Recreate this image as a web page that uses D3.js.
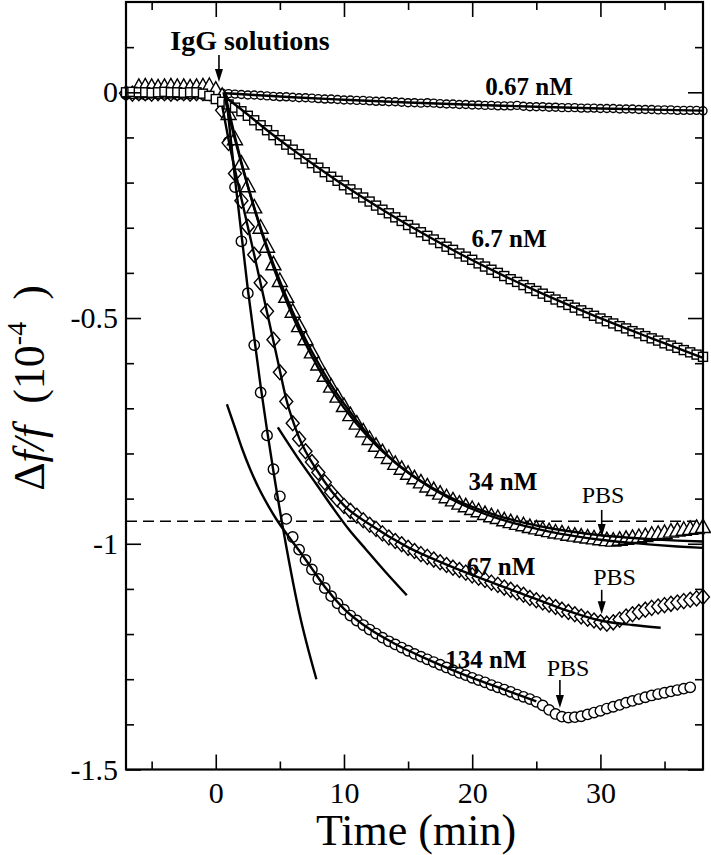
<!DOCTYPE html>
<html><head><meta charset="utf-8">
<script src="https://cdn.jsdelivr.net/npm/d3@7"></script>
<style>body{margin:0;background:#fff}svg{display:block}</style>
</head><body><svg id="chart" width="711" height="855"></svg>
<script>
// ---------------- DATA ----------------
const timeMin = [
 -7,-6.5,-6,-5.5,-5,-4.5,-4,-3.5,-3,-2.5,
 -2,-1.5,-1,-0.5,0,0.5,1,1.5,2,2.5,
 3,3.5,4,4.5,5,5.5,6,6.5,7,7.5,
 8,8.5,9,9.5,10,10.5,11,11.5,12,12.5,
 13,13.5,14,14.5,15,15.5,16,16.5,17,17.5,
 18,18.5,19,19.5,20,20.5,21,21.5,22,22.5,
 23,23.5,24,24.5,25,25.5,26,26.5,27,27.5,
 28,28.5,29,29.5,30,30.5,31,31.5,32,32.5,
 33,33.5,34,34.5,35,35.5,36,36.5,37,37.5,
 38];

const s067 = [
 -0.004,-0.005,-0.004,-0.003,-0.004,-0.005,-0.004,-0.004,-0.003,-0.004,
 -0.005,-0.004,-0.003,-0.003,-0.002,-0.002,-0.003,-0.004,-0.005,-0.006,
 -0.006,-0.007,-0.008,-0.009,-0.010,-0.010,-0.011,-0.012,-0.012,-0.013,
 -0.014,-0.015,-0.015,-0.016,-0.017,-0.017,-0.018,-0.018,-0.019,-0.020,
 -0.020,-0.021,-0.021,-0.022,-0.023,-0.023,-0.024,-0.023,-0.024,-0.025,
 -0.026,-0.026,-0.027,-0.027,-0.028,-0.028,-0.029,-0.029,-0.030,-0.030,
 -0.030,-0.029,-0.031,-0.032,-0.032,-0.032,-0.033,-0.033,-0.034,-0.034,
 -0.034,-0.035,-0.035,-0.035,-0.036,-0.036,-0.036,-0.037,-0.037,-0.037,
 -0.038,-0.038,-0.038,-0.039,-0.039,-0.039,-0.040,-0.040,-0.040,-0.040,
 -0.041];

const s6_7 = [
 0.000,0.001,0.000,0.000,-0.001,0.000,0.001,0.000,0.000,-0.001,
 0.000,0.000,-0.003,-0.008,-0.015,-0.021,-0.027,-0.034,-0.042,-0.052,
 -0.062,-0.073,-0.084,-0.095,-0.106,-0.116,-0.127,-0.137,-0.147,-0.157,
 -0.167,-0.177,-0.187,-0.196,-0.206,-0.215,-0.224,-0.233,-0.242,-0.251,
 -0.260,-0.268,-0.277,-0.285,-0.294,-0.302,-0.310,-0.318,-0.326,-0.334,
 -0.342,-0.349,-0.357,-0.364,-0.371,-0.379,-0.386,-0.393,-0.400,-0.407,
 -0.414,-0.420,-0.427,-0.434,-0.440,-0.446,-0.453,-0.459,-0.465,-0.471,
 -0.477,-0.483,-0.489,-0.495,-0.501,-0.507,-0.512,-0.518,-0.523,-0.529,
 -0.534,-0.540,-0.545,-0.550,-0.556,-0.561,-0.566,-0.571,-0.576,-0.581,
 -0.586];

const s34 = [
 null,null,0.012,0.013,0.012,0.011,0.012,0.013,0.012,0.012,
 0.011,0.012,0.013,0.014,0.006,-0.008,-0.048,-0.104,-0.158,-0.208,
 -0.255,-0.300,-0.342,-0.381,-0.418,-0.453,-0.486,-0.518,-0.547,-0.576,
 -0.603,-0.628,-0.652,-0.674,-0.695,-0.715,-0.734,-0.751,-0.768,-0.783,
 -0.797,-0.810,-0.823,-0.834,-0.845,-0.855,-0.864,-0.873,-0.881,-0.889,
 -0.897,-0.904,-0.911,-0.917,-0.923,-0.928,-0.934,-0.939,-0.943,-0.948,
 -0.952,-0.956,-0.959,-0.963,-0.966,-0.969,-0.972,-0.975,-0.977,-0.980,
 -0.982,-0.984,-0.986,-0.988,-0.990,-0.992,-0.993,-0.991,-0.989,-0.987,
 -0.985,-0.983,-0.980,-0.978,-0.976,-0.973,-0.971,-0.969,-0.967,-0.965,
 -0.963];

const s67 = [
 -0.002,-0.003,-0.002,-0.002,-0.003,-0.002,-0.002,-0.003,-0.002,-0.002,
 -0.003,-0.002,-0.002,-0.002,-0.003,-0.040,-0.112,-0.180,-0.240,-0.298,
 -0.360,-0.422,-0.485,-0.548,-0.620,-0.685,-0.733,-0.768,-0.795,-0.819,
 -0.842,-0.864,-0.886,-0.902,-0.916,-0.927,-0.938,-0.948,-0.958,-0.967,
 -0.977,-0.986,-0.994,-1.001,-1.009,-1.016,-1.023,-1.029,-1.035,-1.041,
 -1.047,-1.053,-1.058,-1.064,-1.070,-1.075,-1.080,-1.086,-1.091,-1.097,
 -1.102,-1.108,-1.113,-1.120,-1.125,-1.130,-1.135,-1.140,-1.146,-1.151,
 -1.156,-1.161,-1.166,-1.170,-1.174,-1.177,-1.174,-1.168,-1.161,-1.156,
 -1.151,-1.146,-1.142,-1.139,-1.136,-1.133,-1.130,-1.127,-1.124,-1.121,
 -1.118];

const s134 = [
 -0.004,-0.003,-0.004,-0.005,-0.004,-0.003,-0.004,-0.004,-0.005,-0.004,
 -0.004,-0.003,-0.004,-0.004,-0.003,-0.020,-0.110,-0.210,-0.330,-0.445,
 -0.560,-0.665,-0.760,-0.835,-0.895,-0.945,-0.985,-1.013,-1.036,-1.057,
 -1.078,-1.098,-1.116,-1.132,-1.146,-1.159,-1.170,-1.180,-1.190,-1.199,
 -1.208,-1.216,-1.223,-1.230,-1.237,-1.244,-1.250,-1.256,-1.262,-1.268,
 -1.274,-1.280,-1.286,-1.291,-1.297,-1.302,-1.307,-1.313,-1.318,-1.323,
 -1.328,-1.334,-1.339,-1.344,-1.350,-1.358,-1.368,-1.377,-1.383,-1.385,
 -1.384,-1.382,-1.378,-1.374,-1.370,-1.365,-1.361,-1.357,-1.352,-1.348,
 -1.344,-1.340,-1.336,-1.333,-1.330,-1.327,-1.324,-1.321,-1.318,null,
 null];

// fitted curves [time, value]
const fit067 = [[0.7,-0.002],[3,-0.006],[6,-0.011],[10,-0.0165],[15,-0.0225],[20,-0.0276],[25,-0.032],[30,-0.0358],[35,-0.039],[38,-0.0407]];
const fit6_7 = [[0.8,-0.012],[2,-0.038],[4,-0.084],[6,-0.127],[8,-0.167],[10,-0.206],[13,-0.26],[16,-0.31],[19,-0.357],[22,-0.40],[25,-0.44],[28,-0.477],[31,-0.512],[34,-0.545],[38,-0.588]];
const fit34a = [[0.6,0],[1,-0.048],[2,-0.158],[3,-0.255],[4,-0.342],[5,-0.418],[6,-0.486],[7,-0.547],[8,-0.600],[9,-0.648],[10,-0.690],[12,-0.762],[14,-0.820],[16,-0.862],[18,-0.896],[20,-0.923],[22,-0.944],[24,-0.960],[26,-0.973],[28,-0.983],[30,-0.991],[32,-0.997],[34,-1.002],[36,-1.006],[38,-1.009]];
const fit34b = [[0.7,0],[1,-0.038],[2,-0.155],[3,-0.257],[4,-0.347],[5,-0.426],[6,-0.496],[7,-0.557],[8,-0.611],[9,-0.658],[10,-0.699],[12,-0.767],[14,-0.820],[16,-0.861],[18,-0.893],[20,-0.918],[22,-0.938],[24,-0.953],[26,-0.965],[28,-0.974],[30,-0.981],[32,-0.986],[34,-0.990],[36,-0.993],[38,-0.995]];
const fit67 = [[0.5,-0.03],[1,-0.105],[2,-0.235],[3,-0.36],[4,-0.487],[4.8,-0.59],[5.5,-0.68],[6.5,-0.765],[8,-0.842],[10,-0.915],[12,-0.957],[15,-1.008],[18,-1.046],[21,-1.08],[24,-1.112],[27,-1.144],[30,-1.170],[32.5,-1.180],[34.7,-1.186]];
const fit67b = [[4.84,-0.742],[6.48,-0.813],[7.8,-0.866],[9.05,-0.917],[10.37,-0.968],[11.7,-1.012],[13.26,-1.063],[14.9,-1.114]];
const fit134fast = [[0.8,-0.005],[1.5,-0.191],[2.5,-0.436],[3.5,-0.651],[4.5,-0.84],[5.5,-1.006],[6.5,-1.151],[7.85,-1.30]];
const fit134slow = [[0.87,-0.691],[1.5,-0.743],[2.05,-0.789],[2.7,-0.836],[3.36,-0.877],[4.0,-0.911],[4.69,-0.944],[5.55,-0.979],[6.5,-1.015],[7.5,-1.055],[8.5,-1.095],[10,-1.144],[12,-1.189],[14,-1.222],[17,-1.262],[20,-1.297],[22.5,-1.323],[25,-1.349]];

// axis ticks
const xMajor = [0,10,20,30];
const xMinor = [-5,5,15,25,35];
const yMajor = [0,-0.5,-1,-1.5];
const yMinor = [0.1,-0.1,-0.2,-0.3,-0.4,-0.6,-0.7,-0.8,-0.9,-1.1,-1.2,-1.3,-1.4];
const refLevel = -0.95;

// annotations (data coordinates)
const concLabels = [
 {text:"0.67 nM", t:24.43, v:-0.006},
 {text:"6.7 nM",  t:22.87, v:-0.343},
 {text:"34 nM",   t:22.4,  v:-0.881},
 {text:"67 nM",   t:22.24, v:-1.069},
 {text:"134 nM",  t:21.07, v:-1.275}];
const pbsMarks = [
 {t:30.1, v0:-0.925, v1:-0.985, lt:30.2, lv:-0.909},
 {t:30.1, v0:-1.102, v1:-1.156, lt:31.1, lv:-1.091},
 {t:26.84,v0:-1.302, v1:-1.364, lt:27.47,lv:-1.293}];
const igg = {text:"IgG solutions", t:0.25, v0:0.0825, v1:0.0228, lt:2.67, lv:0.0937};

// ---------------- DRAW ----------------
const svg = d3.select("#chart");
const P = {left:126, right:703, top:2, bottom:769.5};
const x = d3.scaleLinear().domain([-7,38]).range([P.left, P.right]);
const y = d3.scaleLinear().domain([-1.5,0.2]).range([P.bottom, P.top]);
const serif = "'Liberation Serif','Times New Roman',Times,serif";

svg.append("rect").attr("width",711).attr("height",855).attr("fill","#fff");

// dashed reference line
svg.append("line").attr("x1",x(-7)).attr("x2",x(38))
  .attr("y1",y(refLevel)).attr("y2",y(refLevel))
  .attr("stroke","#000").attr("stroke-width",1.6).attr("stroke-dasharray","11,6");

function pts(vals){ return timeMin.map((t,i)=>({t, v:vals[i]})).filter(d=>d.v!==null && d.v!==undefined); }
const mk = svg.append("g").attr("fill","#fff").attr("stroke","#000").attr("stroke-width",1.4);

// 134 nM circles
mk.selectAll(".c134").data(pts(s134)).join("circle")
  .attr("cx",d=>x(d.t)).attr("cy",d=>y(d.v)).attr("r",5.2);
// 67 nM diamonds
mk.selectAll(".d67").data(pts(s67)).join("path")
  .attr("d","M0,-7.5L6.5,0L0,7.5L-6.5,0Z")
  .attr("transform",d=>`translate(${x(d.t)},${y(d.v)})`);
// 0.67 nM circles
mk.selectAll(".c067").data(pts(s067)).join("circle")
  .attr("cx",d=>x(d.t)).attr("cy",d=>y(d.v)).attr("r",4);
// 34 nM triangles
mk.selectAll(".t34").data(pts(s34)).join("path")
  .attr("d","M0,-8L7.5,5.5L-7.5,5.5Z")
  .attr("transform",d=>`translate(${x(d.t)},${y(d.v)})`);
// 6.7 nM squares
mk.selectAll(".s67").data(pts(s6_7)).join("rect")
  .attr("x",d=>x(d.t)-4.5).attr("y",d=>y(d.v)-4.5).attr("width",9).attr("height",9);

// fit lines
const line = d3.line().x(d=>x(d[0])).y(d=>y(d[1])).curve(d3.curveMonotoneX);
[fit067,fit6_7,fit34a,fit34b,fit67,fit67b,fit134fast,fit134slow].forEach(f=>{
  svg.append("path").attr("d",line(f)).attr("fill","none").attr("stroke","#000").attr("stroke-width",2.4);
});

// axes
function styleAxis(g){
  g.select(".domain").remove();
  g.selectAll(".tick line").attr("stroke","#000").attr("stroke-width",1.6);
  g.selectAll(".tick text").attr("fill","#000").attr("font-size",30).attr("font-family",serif);
  g.attr("font-family",serif);
}
const fmt = d=>String(d);
svg.append("g").attr("transform",`translate(0,${P.bottom})`)
  .call(d3.axisBottom(x).tickValues(xMajor).tickSize(-15).tickSizeOuter(0).tickPadding(12).tickFormat(fmt)).call(styleAxis);
svg.append("g").attr("transform",`translate(0,${P.bottom})`)
  .call(d3.axisBottom(x).tickValues(xMinor).tickSize(-8).tickSizeOuter(0).tickFormat("")).call(styleAxis);
svg.append("g").attr("transform",`translate(0,${P.top})`)
  .call(d3.axisTop(x).tickValues(xMajor).tickSize(-15).tickSizeOuter(0).tickFormat("")).call(styleAxis);
svg.append("g").attr("transform",`translate(0,${P.top})`)
  .call(d3.axisTop(x).tickValues(xMinor).tickSize(-8).tickSizeOuter(0).tickFormat("")).call(styleAxis);
svg.append("g").attr("transform",`translate(${P.left},0)`)
  .call(d3.axisLeft(y).tickValues(yMajor).tickSize(-15).tickSizeOuter(0).tickPadding(8).tickFormat(fmt)).call(styleAxis);
svg.append("g").attr("transform",`translate(${P.left},0)`)
  .call(d3.axisLeft(y).tickValues(yMinor).tickSize(-8).tickSizeOuter(0).tickFormat("")).call(styleAxis);
svg.append("g").attr("transform",`translate(${P.right},0)`)
  .call(d3.axisRight(y).tickValues(yMajor).tickSize(-15).tickSizeOuter(0).tickFormat("")).call(styleAxis);
svg.append("g").attr("transform",`translate(${P.right},0)`)
  .call(d3.axisRight(y).tickValues(yMinor).tickSize(-8).tickSizeOuter(0).tickFormat("")).call(styleAxis);

svg.append("rect").attr("x",P.left).attr("y",P.top).attr("width",P.right-P.left).attr("height",P.bottom-P.top)
  .attr("fill","none").attr("stroke","#000").attr("stroke-width",2.2);

// axis titles
svg.append("text").attr("x",416).attr("y",845).attr("text-anchor","middle")
  .attr("font-family",serif).attr("font-size",44).text("Time (min)");
const yl = svg.append("text").attr("transform","translate(44,388) rotate(-90)")
  .attr("text-anchor","middle").attr("font-family",serif).attr("font-size",44);
yl.append("tspan").text("\u0394");
yl.append("tspan").attr("font-style","italic").text("f/f");
yl.append("tspan").text("\u00a0\u00a0(10");
yl.append("tspan").attr("font-size",28).attr("dy",-18).text("-4");
yl.append("tspan").attr("dy",18).text("\u00a0\u00a0)");

// arrows
function arrow(t,v0,v1){
  const X=x(t), Y0=y(v0), Y1=y(v1);
  svg.append("line").attr("x1",X).attr("x2",X).attr("y1",Y0).attr("y2",Y1-10)
    .attr("stroke","#000").attr("stroke-width",1.6);
  svg.append("path").attr("d",`M${X-4},${Y1-13}L${X+4},${Y1-13}L${X},${Y1}Z`).attr("fill","#000");
}
arrow(igg.t, igg.v0, igg.v1);
svg.append("text").attr("x",x(igg.lt)).attr("y",y(igg.lv)).attr("text-anchor","middle")
  .attr("font-family",serif).attr("font-weight","bold").attr("font-size",28).text(igg.text);

concLabels.forEach(c=>{
  svg.append("text").attr("x",x(c.t)).attr("y",y(c.v)).attr("text-anchor","middle")
    .attr("font-family",serif).attr("font-weight","bold").attr("font-size",25).text(c.text);
});
pbsMarks.forEach(p=>{
  arrow(p.t,p.v0,p.v1);
  svg.append("text").attr("x",x(p.lt)).attr("y",y(p.lv)).attr("text-anchor","middle")
    .attr("font-family",serif).attr("font-size",24).text("PBS");
});
</script>
</body></html>
